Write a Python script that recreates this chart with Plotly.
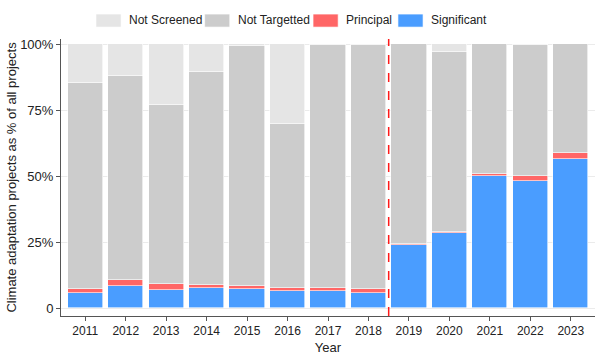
import plotly.graph_objects as go

years = [2011, 2012, 2013, 2014, 2015, 2016, 2017, 2018, 2019, 2020, 2021, 2022, 2023]
# cumulative tops (fractions)
significant = [0.057, 0.084, 0.067, 0.078, 0.073, 0.065, 0.065, 0.059, 0.239, 0.284, 0.499, 0.482, 0.564]
principal_top = [0.074, 0.106, 0.091, 0.086, 0.082, 0.076, 0.076, 0.072, 0.243, 0.289, 0.508, 0.500, 0.589]
targetted_top = [0.853, 0.879, 0.769, 0.895, 0.995, 0.697, 0.999, 0.999, 1.0, 0.971, 1.0, 0.998, 1.0]

principal = [round(p - s, 4) for p, s in zip(principal_top, significant)]
not_targetted = [round(t - p, 4) for t, p in zip(targetted_top, principal_top)]
not_screened = [round(1 - t, 4) for t in targetted_top]

series = [
    ("Significant", significant, "#4A9DFF"),
    ("Principal", principal, "#FF6666"),
    ("Not Targetted", not_targetted, "#CCCCCC"),
    ("Not Screened", not_screened, "#E5E5E5"),
]
legend_order = ["Not Screened", "Not Targetted", "Principal", "Significant"]
colors = {n: c for n, _, c in series}

fig = go.Figure()
for name, vals, col in series:
    fig.add_trace(go.Bar(
        x=years, y=vals, name=name, marker_color=col,
        marker_line_color="white", marker_line_width=0.6,
        width=0.87, showlegend=False,
    ))

# custom legend with wide swatches (paper coords of plot area)
sw_x = [0.0655, 0.269, 0.472, 0.631]
for i, name in enumerate(legend_order):
    x0 = sw_x[i]
    fig.add_shape(type="rect", xref="paper", yref="paper",
                  x0=x0, x1=x0 + 0.047, y0=1.043, y1=1.090,
                  fillcolor=colors[name], line=dict(color="white", width=0.6))
    fig.add_annotation(xref="paper", yref="paper", x=x0 + 0.058, y=1.067,
                       text=name, showarrow=False, xanchor="left", yanchor="middle",
                       font=dict(size=12, color="#222"))

fig.add_shape(type="line", xref="x", yref="paper", x0=2018.5, x1=2018.5, y0=0, y1=1,
              line=dict(color="#FF1A1A", width=1.5, dash="dash"))

fig.update_layout(
    barmode="stack",
    width=600, height=360,
    margin=dict(l=61, r=5, t=39, b=44, autoexpand=False),
    plot_bgcolor="white", paper_bgcolor="white",
    font=dict(family="Liberation Sans, Arial, sans-serif", size=12, color="#222"),
    bargap=0,
)
fig.update_xaxes(
    range=[2010.4, 2023.6], tickmode="array", tickvals=years,
    ticktext=[str(y) for y in years], showgrid=False,
    showline=True, linecolor="#555", linewidth=1,
    ticks="outside", ticklen=4, tickcolor="#555",
    title=dict(text="Year", font=dict(size=13), standoff=5),
    tickfont=dict(size=12, color="#222"),
)
fig.update_yaxes(
    range=[-0.03, 1.02], tickmode="array", tickvals=[0, 0.25, 0.5, 0.75, 1.0],
    ticktext=["0", "25%", "50%", "75%", "100%"],
    showgrid=True, gridcolor="#EBEBEB", gridwidth=1, zeroline=False,
    showline=True, linecolor="#555", linewidth=1,
    ticks="outside", ticklen=4, tickcolor="#555",
    title=dict(text="Climate adaptation projects as % of all projects", font=dict(size=13), standoff=0),
    tickfont=dict(size=13, color="#222"),
)

fig.write_html("out.html", config={"displayModeBar": False},
               post_script="document.body.style.margin='0px';")
